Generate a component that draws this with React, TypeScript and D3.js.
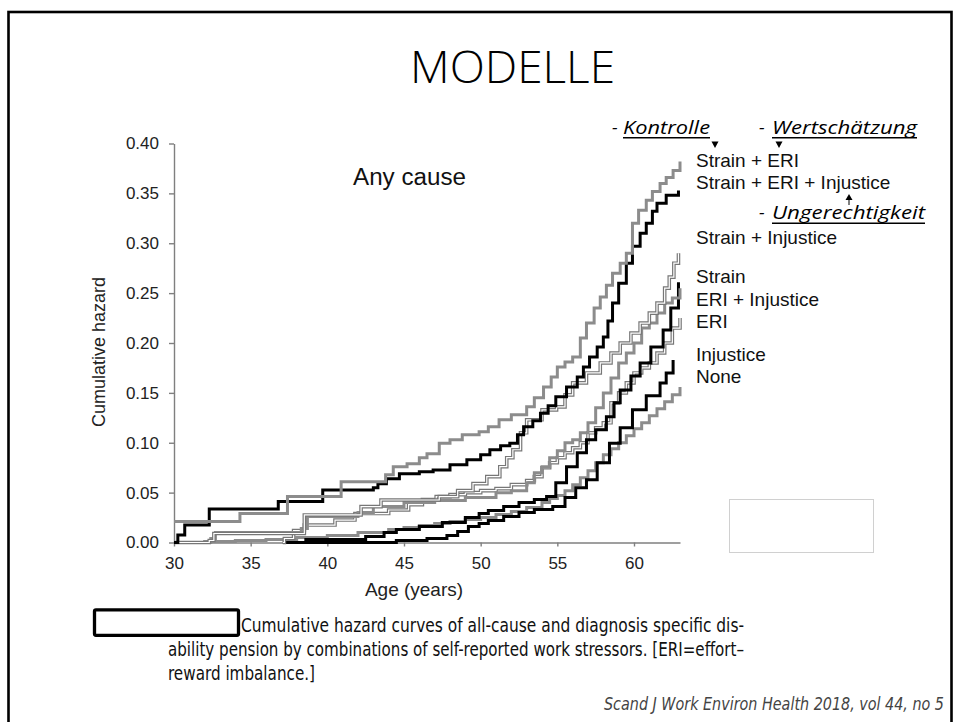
import React, { useEffect, useRef } from 'react';
import * as d3 from 'd3';

// axis ticks
const xTicks = [30, 35, 40, 45, 50, 55, 60];
const yTicks = [0, 0.05, 0.1, 0.15, 0.2, 0.25, 0.3, 0.35, 0.4];

// legend labels (top to bottom, as printed next to the curves)
const legendLabels = [
  'Strain + ERI',
  'Strain + ERI + Injustice',
  'Strain + Injustice',
  'Strain',
  'ERI + Injustice',
  'ERI',
  'Injustice',
  'None',
];

// cumulative hazard step curves, [age, hazard]
const strainEri = [
  [30, 0.021], [34.3, 0.029], [37.4, 0.046], [40.9, 0.061], [43.8, 0.068], [44.3, 0.076],
  [45.2, 0.079], [46.0, 0.085], [46.5, 0.089], [47.3, 0.0995], [48.0, 0.103], [48.8, 0.108],
  [49.9, 0.111], [50.5, 0.116], [51.2, 0.123], [52.0, 0.128], [53.0, 0.136], [53.5, 0.145],
  [54.1, 0.156], [54.6, 0.166], [55.0, 0.176], [55.5, 0.181], [56.0, 0.186], [56.5, 0.205],
  [56.9, 0.22], [57.4, 0.235], [57.8, 0.246], [58.2, 0.258], [58.6, 0.27], [59.1, 0.28],
  [59.5, 0.29], [59.9, 0.32], [60.3, 0.333], [60.8, 0.343], [61.2, 0.352], [61.7, 0.36],
  [62.1, 0.366], [62.55, 0.373], [63.0, 0.382],
];

const strainEriInjustice = [
  [30, 0], [30.25, 0.0075], [30.7, 0.0175], [32.3, 0.0336], [36.8, 0.041], [39.7, 0.0526],
  [43.0, 0.055], [43.3, 0.059], [43.85, 0.064], [44.7, 0.069], [46.0, 0.071], [46.9, 0.0727],
  [48.0, 0.078], [49.1, 0.083], [50.0, 0.088], [50.6, 0.093], [51.3, 0.097], [51.9, 0.0995],
  [52.4, 0.108], [52.8, 0.116], [53.4, 0.122], [53.9, 0.1295], [54.4, 0.137], [54.9, 0.146],
  [55.6, 0.156], [56.3, 0.166], [56.7, 0.176], [57.1, 0.186], [57.6, 0.196], [58.0, 0.206],
  [58.3, 0.222], [58.6, 0.24], [59.0, 0.26], [59.5, 0.28], [59.9, 0.297], [60.4, 0.31],
  [60.8, 0.32], [61.2, 0.332], [61.5, 0.34], [62.1, 0.348], [62.9, 0.353],
];

const strainInjustice = [
  [30, 0], [32.3, 0.002], [32.6, 0.009], [38.5, 0.0276], [42.2, 0.036], [43.5, 0.0426],
  [47.3, 0.046], [48.5, 0.052], [49.5, 0.059], [50.4, 0.066], [51.25, 0.076], [51.7, 0.085],
  [52.1, 0.093], [52.6, 0.11], [53.0, 0.123], [54.0, 0.133], [54.95, 0.136], [55.5, 0.148],
  [56.0, 0.16], [56.9, 0.17], [57.8, 0.18], [58.5, 0.19], [59.1, 0.2], [59.8, 0.21],
  [60.4, 0.22], [61.0, 0.23], [61.5, 0.24], [62.0, 0.255], [62.3, 0.266], [62.6, 0.28],
  [62.9, 0.29],
];

const strain = [
  [38.5, 0.003], [42.5, 0.006], [43.7, 0.01], [44.5, 0.013], [46.0, 0.016], [47.5, 0.02],
  [49.0, 0.025], [49.9, 0.029], [50.5, 0.032], [51.5, 0.036], [52.5, 0.04], [53.5, 0.043],
  [54.3, 0.046], [54.9, 0.06], [55.6, 0.076], [56.3, 0.09], [56.9, 0.103], [57.5, 0.113],
  [58.2, 0.126], [58.7, 0.14], [59.1, 0.153], [59.8, 0.167], [60.4, 0.18], [61.1, 0.196],
  [61.9, 0.213], [62.4, 0.235], [62.9, 0.261],
];

const eriInjustice = [
  [30, 0], [32.4, 0.004], [32.7, 0.01], [38.3, 0.014], [38.7, 0.026], [42.0, 0.03],
  [43.0, 0.036], [45.0, 0.04], [47.0, 0.042], [49.0, 0.045], [51.0, 0.05], [52.0, 0.052],
  [53.0, 0.06], [53.5, 0.07], [54.0, 0.076], [54.5, 0.085], [55.0, 0.092], [55.5, 0.1],
  [56.0, 0.103], [56.5, 0.11], [57.0, 0.12], [57.5, 0.135], [58.0, 0.15], [58.5, 0.165],
  [59.0, 0.18], [59.5, 0.19], [60.0, 0.2], [60.5, 0.215], [61.0, 0.22], [61.5, 0.23],
  [62.0, 0.24], [62.5, 0.245], [63.0, 0.255],
];

const eri = [
  [37.1, 0], [37.2, 0.004], [37.8, 0.012], [38.5, 0.0175], [40.5, 0.0225], [41.8, 0.029],
  [44.0, 0.0326], [45.3, 0.038], [46.2, 0.043], [47.1, 0.046], [48.0, 0.048], [49.0, 0.05],
  [50.0, 0.052], [51.0, 0.054], [52.0, 0.058], [53.0, 0.062], [53.5, 0.066], [54.0, 0.075],
  [54.5, 0.08], [55.0, 0.085], [55.5, 0.09], [56.0, 0.095], [56.5, 0.1], [57.0, 0.11],
  [57.5, 0.115], [58.0, 0.12], [58.5, 0.14], [59.0, 0.15], [59.5, 0.16], [60.0, 0.17],
  [60.5, 0.175], [61.0, 0.18], [61.5, 0.19], [62.0, 0.2], [62.5, 0.215], [63.0, 0.225],
];

const injustice = [
  [37.1, 0], [44.5, 0.002], [46.5, 0.004], [47.8, 0.007], [48.5, 0.011], [49.2, 0.016],
  [49.9, 0.019], [50.5, 0.022], [51.5, 0.026], [52.5, 0.03], [53.5, 0.033], [54.7, 0.036],
  [55.5, 0.045], [56.2, 0.055], [56.9, 0.063], [57.6, 0.08], [58.4, 0.0995], [59.1, 0.115],
  [59.9, 0.133], [60.8, 0.147], [61.7, 0.16], [62.1, 0.17], [62.55, 0.183],
];

const none = [
  [30, 0], [32, 0.001], [34, 0.002], [36, 0.003], [38, 0.005], [40, 0.007], [42, 0.01],
  [44, 0.013], [45, 0.015], [46, 0.017], [47, 0.019], [48, 0.021], [49, 0.023], [50, 0.025],
  [51, 0.028], [52, 0.031], [53, 0.035], [54, 0.04], [54.5, 0.044], [55, 0.047], [55.5, 0.052],
  [56, 0.058], [56.5, 0.065], [57, 0.072], [57.5, 0.08], [58, 0.088], [58.5, 0.094], [59, 0.1],
  [59.5, 0.107], [60, 0.114], [60.5, 0.12], [61, 0.127], [61.5, 0.134], [62, 0.141],
  [62.5, 0.148], [63, 0.156],
];

const SANS = "'Liberation Sans', Arial, sans-serif";
const NARROW = "'Liberation Sans Narrow', 'DejaVu Sans Condensed', 'Liberation Sans', sans-serif";
const CALIBRI = "'Open Sans', 'Noto Sans', sans-serif";

export default function App() {
  const svgRef = useRef<SVGSVGElement>(null);

  useEffect(() => {
    const svg = d3.select(svgRef.current);
    svg.selectAll('*').remove();

    const x = d3.scaleLinear().domain([30, 63]).range([174, 680]);
    const y = d3.scaleLinear().domain([0, 0.4]).range([542.5, 143.5]);

    // slide frame
    svg.append('rect')
      .attr('x', 8.5).attr('y', 12)
      .attr('width', 943).attr('height', 740)
      .attr('fill', 'none').attr('stroke', '#000').attr('stroke-width', 2.6);

    // title
    svg.append('text')
      .attr('x', 410).attr('y', 83)
      .attr('textLength', 205).attr('lengthAdjust', 'spacingAndGlyphs')
      .style('font-family', CALIBRI).style('font-size', '44px').style('font-weight', 300)
      .attr('fill', '#000')
      .text('MODELLE');

    // axes
    const gx = svg.append('g')
      .attr('transform', `translate(0,${y(0)})`)
      .call(d3.axisBottom(x).tickValues(xTicks).tickSize(4).tickSizeOuter(0).tickPadding(10).tickFormat(d3.format('d')));
    const gy = svg.append('g')
      .attr('transform', `translate(${x(30)},0)`)
      .call(d3.axisLeft(y).tickValues(yTicks).tickSize(5).tickSizeOuter(0).tickPadding(10).tickFormat(d3.format('.2f')));

    [gx, gy].forEach(g => {
      g.select('.domain').attr('stroke', '#7f7f7f').attr('stroke-width', 1.4);
      g.selectAll('.tick line').attr('stroke', '#7f7f7f').attr('stroke-width', 1.4);
      g.selectAll('.tick text')
        .attr('fill', '#222')
        .style('font-family', SANS)
        .style('font-size', '17px');
    });

    // curves
    const line = d3.line<number[]>()
      .x(d => x(d[0]))
      .y(d => y(d[1]))
      .curve(d3.curveStepAfter);

    const series = [
      { data: none, style: 'gray' },
      { data: injustice, style: 'black' },
      { data: eri, style: 'double' },
      { data: strain, style: 'black' },
      { data: eriInjustice, style: 'gray' },
      { data: strainInjustice, style: 'double' },
      { data: strainEriInjustice, style: 'black' },
      { data: strainEri, style: 'gray' },
    ];

    const curves = svg.append('g').attr('fill', 'none');
    series.forEach(s => {
      const d = line(s.data as number[][]);
      if (s.style === 'double') {
        curves.append('path').attr('d', d).attr('stroke', '#777').attr('stroke-width', 3.6);
        curves.append('path').attr('d', d).attr('stroke', '#fff').attr('stroke-width', 1.2);
      } else {
        curves.append('path').attr('d', d)
          .attr('stroke', s.style === 'black' ? '#000' : '#8c8c8c')
          .attr('stroke-width', 3);
      }
    });

    // axis titles
    svg.append('text')
      .attr('transform', 'translate(105,352) rotate(-90)')
      .attr('text-anchor', 'middle')
      .attr('textLength', 150).attr('lengthAdjust', 'spacingAndGlyphs')
      .style('font-family', SANS).style('font-size', '17.5px').attr('fill', '#222')
      .text('Cumulative hazard');

    svg.append('text')
      .attr('x', 414).attr('y', 596)
      .attr('text-anchor', 'middle')
      .style('font-family', SANS).style('font-size', '19px').attr('fill', '#222')
      .text('Age (years)');

    svg.append('text')
      .attr('x', 353).attr('y', 185)
      .attr('textLength', 113).attr('lengthAdjust', 'spacingAndGlyphs')
      .style('font-family', SANS).style('font-size', '23.5px').attr('fill', '#111')
      .text('Any cause');

    // legend labels
    const legendBase = [167.3, 189, 244.3, 282.7, 306, 328.3, 361, 382.7];
    legendLabels.forEach((label, i) => {
      svg.append('text')
        .attr('x', 696).attr('y', legendBase[i])
        .style('font-family', SANS).style('font-size', '19px').attr('fill', '#111')
        .text(label);
    });

    // annotations
    const notes = [
      { word: 'Kontrolle', x: 612, wx: 623, len: 87, y: 134, uy: 137.8 },
      { word: 'Wertschätzung', x: 759, wx: 772, len: 145, y: 134, uy: 137.8 },
      { word: 'Ungerechtigkeit', x: 759, wx: 772, len: 153, y: 218.5, uy: 223.3 },
    ];
    notes.forEach(n => {
      svg.append('text')
        .attr('x', n.x).attr('y', n.y)
        .style('font-family', CALIBRI).style('font-size', '18px').style('font-style', 'italic')
        .attr('fill', '#000').text('-');
      svg.append('text')
        .attr('x', n.wx).attr('y', n.y)
        .attr('textLength', n.len).attr('lengthAdjust', 'spacingAndGlyphs')
        .style('font-family', CALIBRI).style('font-size', '18px').style('font-style', 'italic')
        .attr('fill', '#000').text(n.word);
      svg.append('line')
        .attr('x1', n.wx).attr('x2', n.wx + n.len)
        .attr('y1', n.uy).attr('y2', n.uy)
        .attr('stroke', '#000').attr('stroke-width', 1.6);
    });

    // little arrows
    [715, 779].forEach(ax => {
      svg.append('path')
        .attr('d', `M${ax - 3.5},141.5 L${ax + 3.5},141.5 L${ax},148 Z`)
        .attr('fill', '#000');
    });
    svg.append('path').attr('d', 'M845.5,200 L852.5,200 L849,194 Z').attr('fill', '#000');
    svg.append('line').attr('x1', 849).attr('x2', 849).attr('y1', 199).attr('y2', 205)
      .attr('stroke', '#000').attr('stroke-width', 1);

    // empty light box
    svg.append('rect')
      .attr('x', 729.5).attr('y', 499.5).attr('width', 144).attr('height', 53)
      .attr('fill', '#fff').attr('stroke', '#d0d0d0').attr('stroke-width', 1);

    // caption
    svg.append('rect')
      .attr('x', 94.5).attr('y', 609.8).attr('width', 144).attr('height', 25.5)
      .attr('rx', 1.5)
      .attr('fill', '#fff').attr('stroke', '#000').attr('stroke-width', 3.3);

    const caption = [
      { text: 'Cumulative hazard curves of all-cause and diagnosis specific dis-', x: 241, y: 632, len: 503 },
      { text: 'ability pension by combinations of self-reported work stressors. [ERI=effort\u2013', x: 168, y: 656, len: 576 },
      { text: 'reward imbalance.]', x: 168, y: 680, len: 147 },
    ];
    caption.forEach(c => {
      svg.append('text')
        .attr('x', c.x).attr('y', c.y)
        .attr('textLength', c.len).attr('lengthAdjust', 'spacingAndGlyphs')
        .style('font-family', NARROW).style('font-size', '19px').attr('fill', '#111')
        .text(c.text);
    });

    svg.append('text')
      .attr('x', 604).attr('y', 710)
      .attr('textLength', 340).attr('lengthAdjust', 'spacingAndGlyphs')
      .style('font-family', NARROW).style('font-size', '17px').style('font-style', 'italic')
      .attr('fill', '#444')
      .text('Scand J Work Environ Health 2018, vol 44, no 5');
  }, []);

  return (
    <svg
      ref={svgRef}
      width={955}
      height={722}
      style={{ position: 'absolute', left: 0, top: 0, display: 'block', background: '#fff' }}
    />
  );
}
